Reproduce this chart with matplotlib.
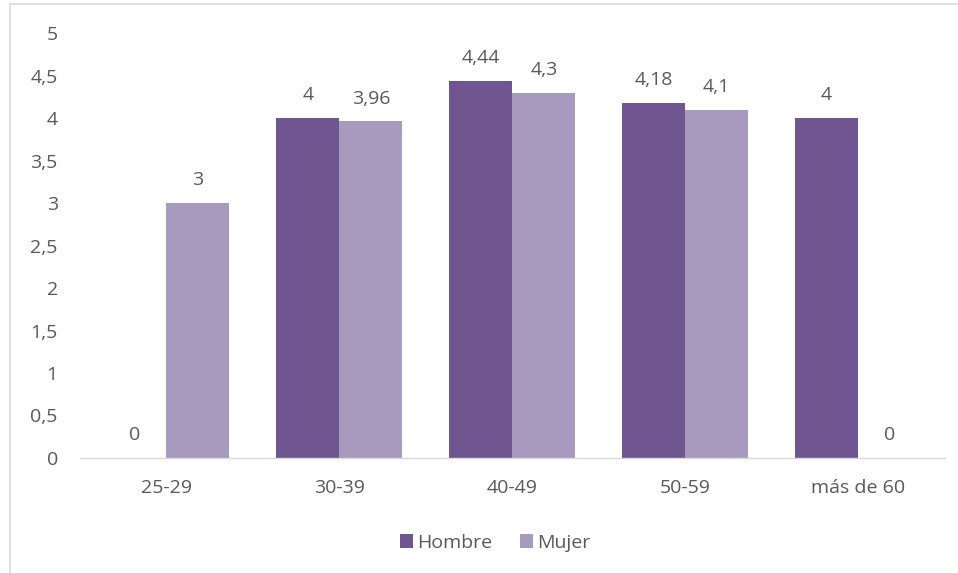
import matplotlib.pyplot as plt
from matplotlib.patches import Rectangle
import numpy as np

categorias = ['25-29', '30-39', '40-49', '50-59', 'más de 60']
hombre = [0, 4, 4.44, 4.18, 4]
mujer = [3, 3.96, 4.3, 4.1, 0]
ticks_y = [0, 0.5, 1, 1.5, 2, 2.5, 3, 3.5, 4, 4.5, 5]

COLOR_H = '#6f5690'
COLOR_M = '#a899bf'
TEXTO = '#595959'
FS = 14

plt.rcParams['font.family'] = ['Open Sans', 'DejaVu Sans']


def fmt(v):
    s = f'{v:g}'
    return s.replace('.', ',')


def main():
    fig = plt.figure(figsize=(9.58, 5.73), dpi=100)
    ax = fig.add_axes([0.0835, 0.2007, 0.9025, 0.7417])

    # Marco gris del gráfico (solo se ven arriba e izquierda)
    fig.patches.append(Rectangle((10 / 958, -0.2), 1.2, 1.2 - 4 / 573,
                                 transform=fig.transFigure, fill=False,
                                 edgecolor='#d9d9d9', linewidth=1.2))

    x = np.arange(len(categorias))
    ancho = 0.364
    b1 = ax.bar(x - ancho / 2, hombre, ancho, color=COLOR_H, label='Hombre')
    b2 = ax.bar(x + ancho / 2, mujer, ancho, color=COLOR_M, label='Mujer')

    for barras, vals in ((b1, hombre), (b2, mujer)):
        for b, v in zip(barras, vals):
            ax.annotate(fmt(v), (b.get_x() + b.get_width() / 2, v),
                        xytext=(0, 10), textcoords='offset points',
                        ha='center', va='bottom', fontsize=FS, color=TEXTO)

    ax.set_xlim(-0.5, len(categorias) - 0.5)
    ax.set_ylim(0, 5)
    ax.set_yticks(ticks_y)
    ax.set_yticklabels([fmt(t) for t in ticks_y])
    ax.set_xticks(x)
    ax.set_xticklabels(categorias)
    ax.tick_params(axis='both', length=0, labelsize=FS, labelcolor=TEXTO)
    ax.tick_params(axis='y', pad=16)
    ax.tick_params(axis='x', pad=15)

    for s in ['top', 'right', 'left']:
        ax.spines[s].set_visible(False)
    ax.spines['bottom'].set_color('#d9d9d9')
    ax.spines['bottom'].set_linewidth(1)

    leg = ax.legend(loc='center', bbox_to_anchor=(495 / 958, 1 - 543 / 573),
                    bbox_transform=fig.transFigure, ncol=2, frameon=False,
                    fontsize=FS, handlelength=0.7, handleheight=0.7,
                    handletextpad=0.2, columnspacing=1.4)
    for t in leg.get_texts():
        t.set_color(TEXTO)

    fig.savefig('out.png', dpi=100)


if __name__ == '__main__':
    main()
